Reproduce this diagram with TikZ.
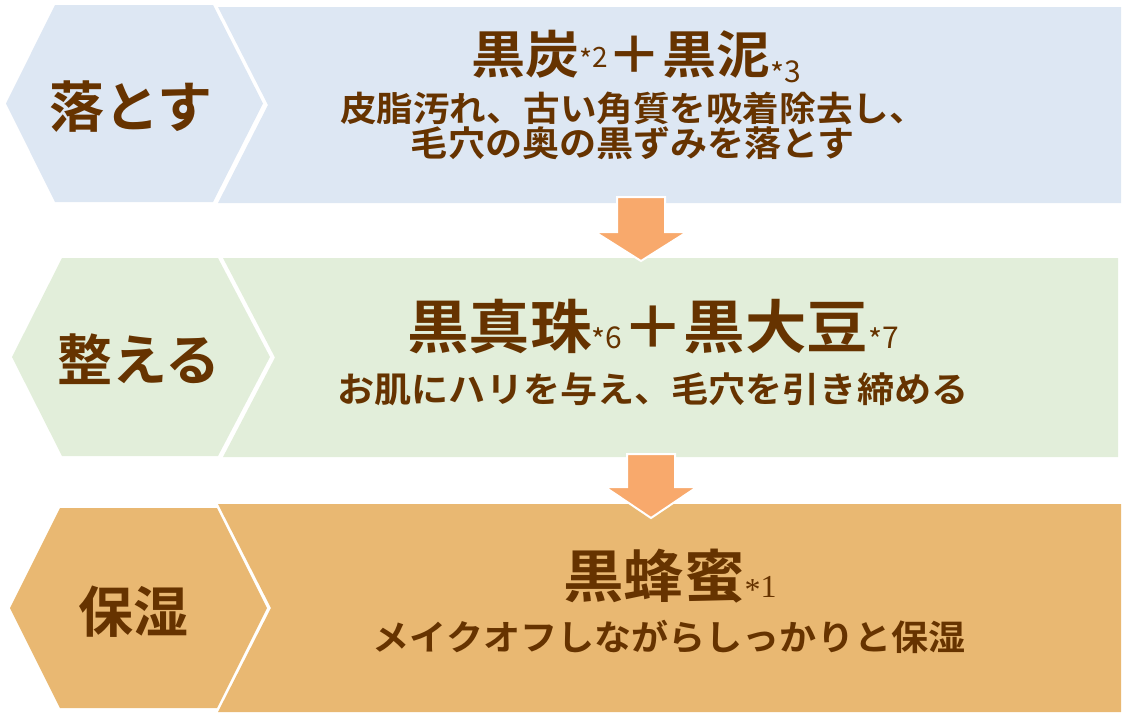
\documentclass[tikz,border=0pt]{standalone}
\usepackage{fontspec}
\newfontfamily\jp{Noto Sans CJK JP}
\newfontfamily\jpb{Noto Sans CJK JP Bold}
\newfontfamily\jpw{Noto Sans CJK JP Bold}[FakeStretch=1.06]
\newfontfamily\numserif{Liberation Serif}
\definecolor{blueband}{HTML}{DDE7F3}
\definecolor{greenband}{HTML}{E2EEDA}
\definecolor{orangeband}{HTML}{E9B872}
\definecolor{arrowfill}{HTML}{F8A96C}
\definecolor{brown}{HTML}{663300}
\newcommand{\fs}[1]{\fontsize{#1}{#1}\selectfont}
\newcommand{\starmark}{\raisebox{-0.12em}{*}}
\tikzset{
  txt/.style={text=brown, inner sep=0pt, anchor=base},
  blockarrow/.style={fill=arrowfill, draw=white, line width=2pt, line join=miter},
}
\begin{document}
\begin{tikzpicture}[x=1pt,y=-1pt]
\useasboundingbox (0,0) rectangle (1124,718);
% row 1
\fill[blueband] (218,7) -- (1121,7) -- (1121,203) -- (218,203) -- (268,105) -- cycle;
\fill[blueband] (6,103.5) -- (55,5) -- (213,5) -- (263,103.5) -- (213,202) -- (55,202) -- cycle;
% row 2
\fill[greenband] (223,258) -- (1118,258) -- (1118,457) -- (223,457) -- (275,357.5) -- cycle;
\fill[greenband] (12,357) -- (62,258) -- (218,258) -- (270,357) -- (218,456) -- (62,456) -- cycle;
% row 3
\fill[orangeband] (218,504) -- (1121,504) -- (1121,712) -- (218,712) -- (271,608) -- cycle;
\fill[orangeband] (10,608) -- (60,508) -- (217,508) -- (267,608) -- (217,708) -- (60,708) -- cycle;
% arrows
\filldraw[blockarrow] (617,197) -- (665,197) -- (665,232) -- (687,232) -- (641,261) -- (595,232) -- (617,232) -- cycle;
\filldraw[blockarrow] (627,454) -- (675,454) -- (675,487) -- (697,487) -- (651,518) -- (605,487) -- (627,487) -- cycle;
% left labels
\node[txt] (l1) at (131,127) {\jpb\fs{55}落とす};
\node[txt] (l2) at (139,380) {\jpb\fs{55}整える};
\node[txt] (l3) at (133,632) {\jpb\fs{55}保湿};
% row 1 text
\node[txt] (t1) at (636,73) {\jpw\fs{51}黒炭\raisebox{6pt}{\jp\fs{28}\starmark 2}＋黒泥\raisebox{-9pt}{\jp\fs{30}\starmark 3}};
\node[txt] (s1a) at (633,121) {\jpw\fs{34.5}皮脂汚れ、古い角質を吸着除去し、};
\node[txt] (s1b) at (633,156) {\jpw\fs{35}毛穴の奥の黒ずみを落とす};
% row 2 text
\node[txt] (t2) at (653,348) {\jpw\fs{58}黒真珠{\jp\fs{30}\starmark 6}＋黒大豆{\jp\fs{30}\starmark 7}};
\node[txt] (s2) at (653,402) {\jpw\fs{35}お肌にハリを与え、毛穴を引き締める};
% row 3 text
\node[txt] (t3) at (670,597) {\jpw\fs{57}黒蜂蜜{\numserif\fs{32}\starmark 1}};
\node[txt] (s3) at (669,650) {\jpw\fs{35}メイクオフしながらしっかりと保湿};
\end{tikzpicture}
\end{document}
